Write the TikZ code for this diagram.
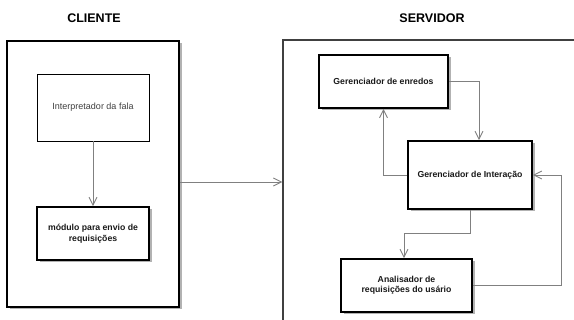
\documentclass[tikz,border=0pt]{standalone}
\usepackage{fontspec}
\setmainfont{Liberation Sans}
\usetikzlibrary{arrows.meta,shadows}
\tikzset{
  shadowbox/.style={draw=black, line width=1.6pt, fill=white, inner sep=0pt,
    drop shadow={shadow xshift=2.5pt, shadow yshift=-2.5pt, fill=black!30, opacity=1}},
  thinbox/.style={draw=black, line width=0.8pt, fill=white, inner sep=0pt},
  conn/.style={draw=black!50, line width=0.9pt, -{Straight Barb[length=8pt,width=8pt,line width=0.9pt]}},
  boldtxt/.style={font=\fontsize{8.7}{10.5}\selectfont\bfseries, align=center, text=black!90},
  regtxt/.style={font=\fontsize{9}{11}\selectfont, align=center, text=black!75},
  title/.style={font=\fontsize{12.5}{14}\selectfont\bfseries, text=black}
}
\begin{document}
\begin{tikzpicture}[x=1pt,y=-1pt]
\useasboundingbox (0,0) rectangle (574,320);
\clip (0,0) rectangle (574,320);
\fill[white] (0,0) rectangle (574,320);
\node[title] (tcli) at (94,18) {CLIENTE};
\node[title] (tsrv) at (432,18) {SERVIDOR};
\node[shadowbox, minimum width=172pt, minimum height=266pt] (client) at (93,174) {};
\node[draw=black!75, line width=1.4pt, fill=white, inner sep=0pt, minimum width=320pt, minimum height=300pt] (server) at (443,190) {};
\node[thinbox, regtxt, minimum width=112pt, minimum height=67pt] (interp) at (93,107.5) {Interpretador da fala};
\node[shadowbox, boldtxt, minimum width=112pt, minimum height=53pt] (modulo) at (93,233.5) {módulo para envio de\\requisições};
\node[shadowbox, boldtxt, minimum width=129pt, minimum height=53pt] (enredos) at (383.5,81.5) {Gerenciador de enredos};
\node[shadowbox, boldtxt, minimum width=124pt, minimum height=68pt] (inter) at (470,175) {Gerenciador de Interação};
\node[shadowbox, boldtxt, minimum width=131pt, minimum height=53pt] (anal) at (406.5,285.5) {Analisador de\\requisições do usário};
\draw[conn] (interp.south) -- (modulo.north);
\draw[conn] (client.east) ++(0,8) coordinate (ca) -- (ca -| server.west);
\draw[conn] (enredos.east) -| ([xshift=9pt]inter.north);
\draw[conn] (inter.west) -| (enredos.south);
\draw[conn] (inter.south) -- ++(0,24) -| ([xshift=-2.5pt]anal.north);
\draw[conn] (anal.east) -- ++(89,0) |- (inter.east);
\end{tikzpicture}
\end{document}
